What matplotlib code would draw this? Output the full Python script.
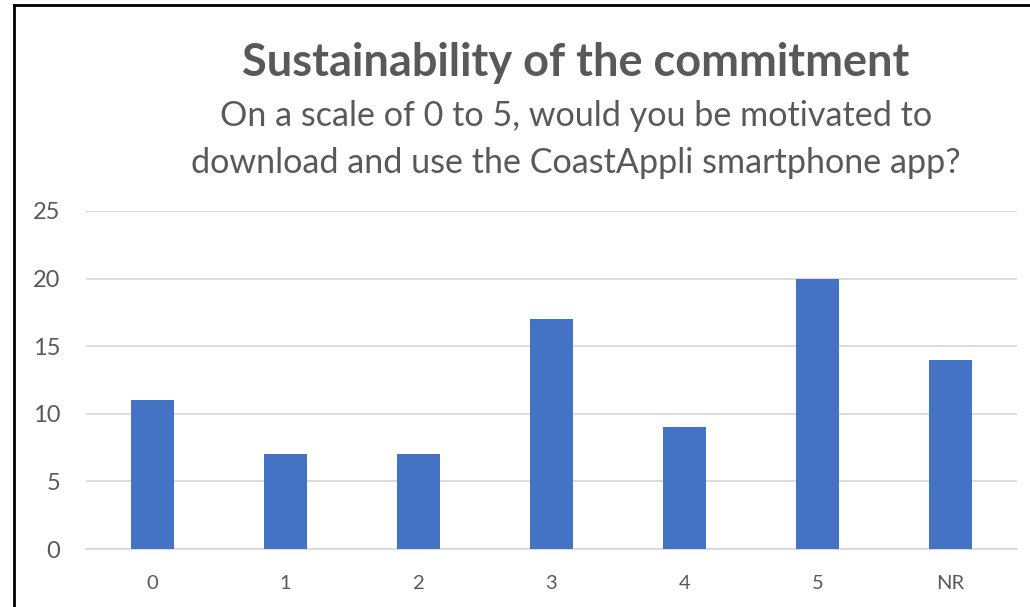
import matplotlib.pyplot as plt
from matplotlib.lines import Line2D

# Datos del gráfico
categorias = ['0', '1', '2', '3', '4', '5', 'NR']
respuestas = [11, 7, 7, 17, 9, 20, 14]
ticks_y = [0, 5, 10, 15, 20, 25]

titulo = 'Sustainability of the commitment'
subtitulo = ['On a scale of 0 to 5, would you be motivated to',
             'download and use the CoastAppli smartphone app?']

gris = '#595959'
azul = '#4472C4'

plt.rcParams['font.family'] = ['Lato', 'DejaVu Sans']

fig = plt.figure(figsize=(10.3, 6.07), dpi=100)
ax = fig.add_axes([86 / 1030, 1 - 549 / 607, (1017 - 86) / 1030, (549 - 211) / 607])

x = range(len(categorias))
ax.bar(x, respuestas, width=0.316, color=azul, zorder=3)

ax.set_xlim(-0.5, len(categorias) - 0.5)
ax.set_ylim(0, 25)
ax.set_yticks(ticks_y)
ax.set_xticks(list(x))
ax.set_xticklabels(categorias)
ax.yaxis.grid(True, color='#D9D9D9', linewidth=1.3, zorder=0)
ax.tick_params(axis='y', length=0, pad=18.5, labelsize=17, labelcolor=gris)
ax.tick_params(axis='x', length=0, pad=19, labelsize=14.5, labelcolor=gris)
for s in ['top', 'right', 'left']:
    ax.spines[s].set_visible(False)
ax.spines['bottom'].set_color('#D9D9D9')
ax.spines['bottom'].set_linewidth(1.3)

# Títulos
fig.text(576 / 1030, 1 - 63 / 607, titulo, ha='center', va='center',
         fontsize=32.5, fontweight='bold', color=gris)
fig.text(576 / 1030, 1 - 116 / 607, subtitulo[0], ha='center', va='center',
         fontsize=24.6, color=gris)
fig.text(576 / 1030, 1 - 163 / 607, subtitulo[1], ha='center', va='center',
         fontsize=24.6, color=gris)

# Borde del recuadro
fig.add_artist(Line2D([14 / 1030, 1], [1 - 5 / 607, 1 - 5 / 607], color='black', linewidth=2,
                      transform=fig.transFigure))
fig.add_artist(Line2D([14 / 1030, 14 / 1030], [0, 1 - 5 / 607], color='black', linewidth=2,
                      transform=fig.transFigure))

fig.savefig('out.png', dpi=100)
